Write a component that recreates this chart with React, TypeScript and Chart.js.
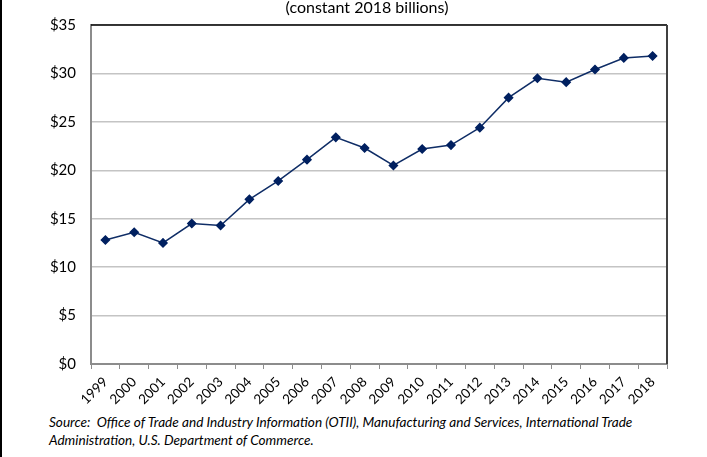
import React, { useEffect, useRef } from "react";
import { Chart, registerables } from "chart.js";

Chart.register(...registerables);

const years: string[] = [
  "1999", "2000", "2001", "2002", "2003", "2004", "2005", "2006", "2007", "2008",
  "2009", "2010", "2011", "2012", "2013", "2014", "2015", "2016", "2017", "2018",
];
const values: number[] = [
  12.8, 13.6, 12.5, 14.5, 14.3, 17.0, 18.9, 21.1, 23.4, 22.3,
  20.5, 22.2, 22.6, 24.4, 27.5, 29.5, 29.1, 30.4, 31.6, 31.8,
];
const yTicks: number[] = [0, 5, 10, 15, 20, 25, 30, 35];
const titleText = "(constant 2018 billions)";
const sourceLine1 =
  "Source:  Office of Trade and Industry Information (OTII), Manufacturing and Services, International Trade";
const sourceLine2 = "Administration, U.S. Department of Commerce.";

const FONT = "Lato, 'Open Sans', 'Liberation Sans', sans-serif";

const framePlugin = {
  id: "frame",
  afterDraw(chart: any) {
    const { ctx, chartArea } = chart;
    ctx.save();
    ctx.strokeStyle = "#000000";
    ctx.lineWidth = 1.5;
    ctx.beginPath();
    ctx.moveTo(chartArea.left, chartArea.top);
    ctx.lineTo(chartArea.right, chartArea.top);
    ctx.stroke();
    ctx.strokeStyle = "#404040";
    ctx.lineWidth = 2;
    ctx.beginPath();
    ctx.moveTo(chartArea.right, chartArea.top);
    ctx.lineTo(chartArea.right, chartArea.bottom);
    ctx.stroke();
    ctx.restore();
  },
};

export default function App() {
  const ref = useRef<HTMLCanvasElement | null>(null);

  useEffect(() => {
    if (!ref.current) return;
    const chart = new Chart(ref.current, {
      type: "line",
      data: {
        labels: years,
        datasets: [
          {
            data: values,
            borderColor: "#0f2d66",
            backgroundColor: "#002060",
            borderWidth: 1.5,
            pointStyle: "rectRot",
            pointRadius: 4,
            pointBackgroundColor: "#002060",
            pointBorderColor: "#002060",
            tension: 0,
          },
        ],
      },
      options: {
        animation: false,
        responsive: false,
        events: [],
        layout: { padding: { left: 0, top: 25, right: 40, bottom: 0 } },
        plugins: {
          legend: { display: false },
          tooltip: { enabled: false },
          title: { display: false },
        },
        scales: {
          x: {
            offset: true,
            grid: {
              offset: true,
              drawOnChartArea: false,
              drawTicks: true,
              tickLength: 5,
              color: "#8c8c8c",
              lineWidth: 1,
            },
            border: { display: true, color: "#8c8c8c", width: 2 },
            ticks: {
              minRotation: 45,
              maxRotation: 45,
              autoSkip: false,
              padding: 5,
              color: "#000000",
              font: { family: FONT, size: 13.5 },
            },
            afterFit(scale: any) {
              scale.height = 44;
            },
          },
          y: {
            min: 0,
            max: 35,
            afterBuildTicks(scale: any) {
              scale.ticks = yTicks.map((v) => ({ value: v }));
            },
            grid: {
              color: "#c4c4c4",
              lineWidth: 1.5,
              drawTicks: false,
            },
            border: { display: true, color: "#8c8c8c", width: 2 },
            ticks: {
              padding: 15,
              color: "#000000",
              font: { family: FONT, size: 15 },
              callback: (v: any) => "$" + v,
            },
            afterFit(scale: any) {
              scale.width = 91;
            },
          },
        },
      },
      plugins: [framePlugin],
    });
    return () => chart.destroy();
  }, []);

  return (
    <div
      style={{
        position: "fixed",
        left: 0,
        top: 0,
        width: 707,
        height: 457,
        background: "#ffffff",
        overflow: "hidden",
        fontFamily: FONT,
      }}
    >
      <div
        style={{
          position: "absolute",
          left: 0,
          top: 0,
          width: 2,
          height: 457,
          background: "#000000",
        }}
      />
      <canvas
        ref={ref}
        width={707}
        height={408}
        style={{ position: "absolute", left: 0, top: 0, width: 707, height: 408 }}
      />
      <div
        style={{
          position: "absolute",
          left: 247,
          width: 240,
          top: -3,
          textAlign: "center",
          fontSize: 16,
          lineHeight: "20px",
          color: "#000",
        }}
      >
        {titleText}
      </div>
      <div
        style={{
          position: "absolute",
          left: 49,
          top: 413,
          fontSize: 13.6,
          lineHeight: "18px",
          fontStyle: "italic",
          color: "#000",
          whiteSpace: "pre",
        }}
      >
        <div>{sourceLine1}</div>
        <div>{sourceLine2}</div>
      </div>
    </div>
  );
}
